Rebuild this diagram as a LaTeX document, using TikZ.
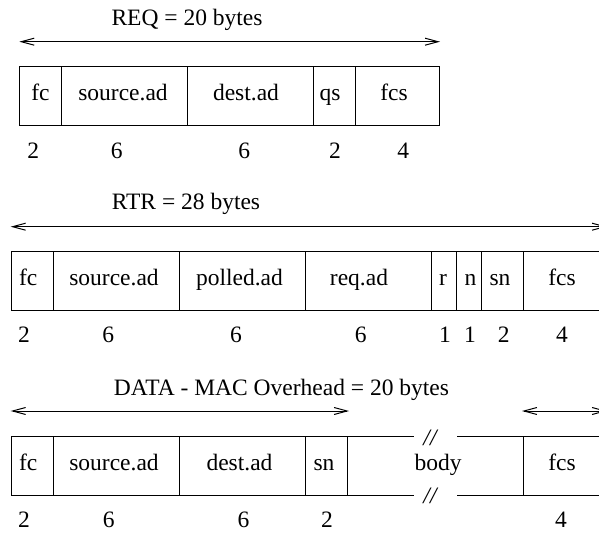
\documentclass[tikz,border=0pt]{standalone}
\usepackage{fontspec}
\setmainfont{Liberation Serif}
\usetikzlibrary{arrows.meta}
\begin{document}
\begin{tikzpicture}[x=1pt,y=-1pt,line width=1pt,
  lbl/.style={anchor=base,inner sep=0pt,font=\fontsize{23.5}{28}\selectfont},
  brk/.style={lbl,font=\fontsize{23.5}{28}\selectfont\itshape},
  dim/.style={{Straight Barb[length=13pt,width=7pt]}-{Straight Barb[length=13pt,width=7pt]}}]
\useasboundingbox (0,0) rectangle (599,534);
\clip (0,0) rectangle (599,534);
% ---------------- REQ ----------------
\node[lbl] (reqtitle) at (187,26) {REQ = 20 bytes};
\coordinate (reqL) at (19.3,41.7);
\coordinate (reqR) at (440,41.7);
\draw[dim] (reqL) -- (reqR);
\draw (19.3,66.7) rectangle (439.3,126);
\foreach \x in {61.7,187.7,313.3,355.7} \draw (\x,66.7) -- (\x,126);
\node[lbl] (q1) at (40.5,100.7) {fc};
\node[lbl] (q2) at (123,100.7) {source.ad};
\node[lbl] (q3) at (246,100.7) {dest.ad};
\node[lbl] (q4) at (330,100.7) {qs};
\node[lbl] (q5) at (394,100.7) {fcs};
\node[lbl] (qn1) at (33.3,158.3) {2};
\node[lbl] (qn2) at (116.7,158.3) {6};
\node[lbl] (qn3) at (244.3,158.3) {6};
\node[lbl] (qn4) at (335,158.3) {2};
\node[lbl] (qn5) at (403.3,158.3) {4};
% ---------------- RTR ----------------
\node[lbl] (rtrtitle) at (186,210) {RTR = 28 bytes};
\coordinate (rtrL) at (10.7,226.7);
\coordinate (rtrR) at (607,226.7);
\draw[dim] (rtrL) -- (rtrR);
\draw (11,251.7) rectangle (607,310);
\foreach \x in {53.3,179.3,305,431,456,481.7,523} \draw (\x,251.7) -- (\x,310);
\node[lbl] (r1) at (28.3,285.7) {fc};
\node[lbl] (r2) at (114,285.7) {source.ad};
\node[lbl] (r3) at (239.5,285.7) {polled.ad};
\node[lbl] (r4) at (359,285.7) {req.ad};
\node[lbl] (r5) at (443,285.7) {r};
\node[lbl] (r6) at (470.5,285.7) {n};
\node[lbl] (r7) at (500,285.7) {sn};
\node[lbl] (r8) at (562,285.7) {fcs};
\node[lbl] (rn1) at (24,342.5) {2};
\node[lbl] (rn2) at (108.3,342.5) {6};
\node[lbl] (rn3) at (236,342.5) {6};
\node[lbl] (rn4) at (360.7,342.5) {6};
\node[lbl] (rn5) at (445,342.5) {1};
\node[lbl] (rn6) at (470,342.5) {1};
\node[lbl] (rn7) at (503.8,342.5) {2};
\node[lbl] (rn8) at (562,342.5) {4};
% ---------------- DATA ----------------
\node[lbl] (datatitle) at (281.5,395.7) {DATA - MAC Overhead = 20 bytes};
\coordinate (dL) at (10.7,411);
\coordinate (dR) at (349,411);
\draw[dim] (dL) -- (dR);
\coordinate (fL) at (522,411);
\coordinate (fR) at (607,411);
\draw[dim] (fL) -- (fR);
\draw (11,436.7) rectangle (347.3,495);
\foreach \x in {53.3,179.3,305} \draw (\x,436.7) -- (\x,495);
\draw (347.3,436.7) -- (414,436.7);
\draw (457,436.7) -- (610,436.7);
\draw (347.3,495) -- (414,495);
\draw (457,495) -- (610,495);
\draw (523,436.7) -- (523,495);
\node[brk] (brk1) at (430,445) {//};
\node[brk] (brk2) at (430,503) {//};
\node[lbl] (d1) at (28.3,470.7) {fc};
\node[lbl] (d2) at (114,470.7) {source.ad};
\node[lbl] (d3) at (239.5,470.7) {dest.ad};
\node[lbl] (d4) at (324,470.7) {sn};
\node[lbl] (d5) at (438,470.7) {body};
\node[lbl] (d6) at (562,470.7) {fcs};
\node[lbl] (dn1) at (24,527.3) {2};
\node[lbl] (dn2) at (108.8,527.3) {6};
\node[lbl] (dn3) at (243.5,527.3) {6};
\node[lbl] (dn4) at (327,527.3) {2};
\node[lbl] (dn5) at (561,527.3) {4};
\end{tikzpicture}
\end{document}
